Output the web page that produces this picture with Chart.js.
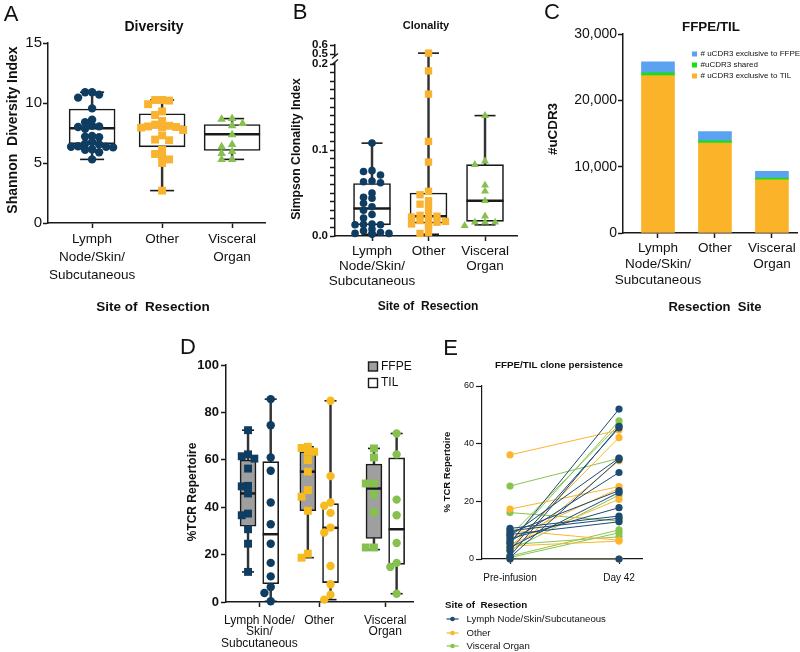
<!DOCTYPE html>
<html lang="en">
<head>
<meta charset="UTF-8" />
<title>TCR repertoire by site of resection</title>
<script src="https://cdn.jsdelivr.net/npm/chart.js@4.4.1/dist/chart.umd.min.js"></script>
<style>
  body { margin: 0; background: #fff; }
  #fig { position: relative; width: 800px; height: 652px; overflow: hidden; }
  canvas { position: absolute; }
</style>
</head>
<body>
<div id="fig">
  <canvas id="chartA" width="268" height="320" style="left:0;top:0"></canvas>
  <canvas id="chartB" width="262" height="320" style="left:268px;top:0"></canvas>
  <canvas id="chartC" width="270" height="320" style="left:530px;top:0"></canvas>
  <canvas id="chartD" width="265" height="332" style="left:175px;top:320px"></canvas>
  <canvas id="chartE" width="360" height="332" style="left:440px;top:320px"></canvas>
</div>
<script>
Chart.defaults.font.family = '"Liberation Sans", Arial, Helvetica, sans-serif';
Chart.defaults.color = '#111';
const FONT = '"Liberation Sans", Arial, Helvetica, sans-serif';
const INK = '#1a1a1a';
const NAVY = '#0f3c61', ORANGE = '#f9b331', GREEN = '#86c04e', YELLOW = '#f7bb22';

// categories
const siteLabels = [['Lymph', 'Node/Skin/', 'Subcutaneous'], ['Other'], ['Visceral', 'Organ']];
const siteLabelsD = [['Lymph Node/', 'Skin/', 'Subcutaneous'], ['Other'], ['Visceral', 'Organ']];
const siteNames = ['Lymph Node/Skin/Subcutaneous', 'Other', 'Visceral Organ'];
const timepoints = ['Pre-infusion', 'Day 42'];

// A: Shannon diversity index
const divLymph = [10.9, 10.9, 10.7, 10.45, 9.55, 8.6, 8.4, 8.1, 8.05, 8.0, 7.85, 7.25, 7.2, 7.15, 6.75, 6.6, 6.55, 6.4, 6.35, 6.35, 6.3, 6.15, 6.1, 5.9, 5.3];
const divOther = [10.25, 10.25, 10.2, 9.9, 9.3, 9.0, 8.5, 8.2, 8.1, 8.05, 8.0, 8.0, 7.95, 7.75, 7.3, 6.95, 6.9, 6.1, 5.75, 5.6, 5.3, 5.0, 2.7];
const divVisc = [8.7, 8.65, 8.3, 8.1, 7.35, 6.55, 6.35, 5.95, 5.8, 5.3, 5.3];
const divMin = [5.3, 2.7, 5.3];
const divQ1 = [6.6, 6.35, 6.05];
const divMed = [7.9, 8.0, 7.4];
const divQ3 = [9.5, 9.1, 8.2];
const divMax = [10.9, 10.25, 8.7];

// B: Simpson clonality index (axis broken between 0.2 and 0.5)
const cloLymph = [0.108, 0.076, 0.075, 0.071, 0.064, 0.063, 0.062, 0.050, 0.045, 0.044, 0.038, 0.034, 0.030, 0.025, 0.021, 0.014, 0.0135, 0.013, 0.013, 0.008, 0.006, 0.004, 0.003, 0.003, 0.003, 0.002];
const cloOther = [0.51, 0.192, 0.165, 0.110, 0.086, 0.052, 0.048, 0.041, 0.037, 0.033, 0.025, 0.024, 0.023, 0.022, 0.019, 0.018, 0.017, 0.016, 0.014, 0.013, 0.012, 0.004, 0.003];
const cloVisc = [0.140, 0.087, 0.083, 0.059, 0.052, 0.041, 0.023, 0.016, 0.016, 0.016, 0.012];
const cloMin = [0.002, 0.002, 0.013];
const cloQ1 = [0.013, 0.015, 0.017];
const cloMed = [0.032, 0.023, 0.041];
const cloQ3 = [0.061, 0.050, 0.083];
const cloMax = [0.108, 0.51, 0.140];
const cloTicks = [0, 0.1, 0.2, 0.5, 0.6];

// C: unique CDR3 counts
const tilExcl = [23730, 13550, 8030];
const sharedCdr3 = [400, 350, 250];
const ffpeExcl = [1660, 1400, 1000];

// D: %TCR repertoire, FFPE vs TIL
const ffpeLymph = [72.5, 62.3, 61.5, 60.5, 56.3, 49, 48.8, 45.8, 37.3, 36.6, 30.7, 24.6, 12.7];
const tilLymph = [85.6, 74.6, 61, 55.4, 42, 32.8, 24.6, 16.5, 10.8, 6.3, 3.8, 0.3];
const ffpeOther = [65.5, 65, 63.4, 63.4, 59.9, 55, 47.2, 44.4, 38.5, 20.4, 18.7];
const tilOther = [84.9, 53.1, 42, 40.6, 37.6, 31.4, 29.3, 15.2, 7.5, 3.1, 1.0];
const ffpeVisc = [64.8, 61, 50, 50, 45.4, 37.9, 23, 23];
const tilVisc = [71.1, 62.3, 43.2, 36.6, 24.9, 16.5, 14.8, 3.5];
const ffpeMin = [12.7, 18.7, 22.1], ffpeQ1 = [32, 38.5, 26.8], ffpeMed = [45.8, 55, 47.9], ffpeQ3 = [59.9, 63.4, 58.2], ffpeMax = [72.5, 65.5, 64.8];
const tilMin = [0.3, 1.0, 3.5], tilQ1 = [7.7, 8.2, 15.9], tilMed = [28.6, 31.3, 30.7], tilQ3 = [59.2, 41.5, 60.8], tilMax = [85.6, 84.9, 71.1];

// E: clone persistence, pre-infusion -> day 42
const lnPre = [5.5, 1, 3, 8, 0.5, 6, 9, 4, 7, 10.6, 9.8, 8.5, 0];
const lnDay42 = [52, 46, 45.5, 35, 34.5, 30, 23.7, 23.1, 17.8, 14.9, 14.1, 12.9, 0];
const otPre = [36.1, 17.3, 4, 2.5, 7, 5, 10, 4.5, 0];
const otDay42 = [44.7, 25.1, 42.1, 34.1, 24.5, 20.7, 6.5, 6.2, 0];
const vsPre = [25.3, 16.1, 6, 8, 3, 1, 0.5, 5];
const vsDay42 = [34.9, 13.2, 47.9, 46.5, 22.2, 10.1, 9.1, 7.7];

// broken axis mapping for panel B
const brk = v => v <= 0.25 ? v : 0.2116 + (v - 0.5) * 0.105;

// spread points with close values sideways
function swarm(vals, dy, step, slots) {
  const placed = [];
  return vals.map(v => {
    let off = 0;
    for (let k = 0; k < slots; k++) {
      const o = (k % 2 ? -1 : 1) * Math.ceil(k / 2) * step;
      if (!placed.some(p => Math.abs(p.v - v) < dy && Math.abs(p.o - o) < step * 0.95)) { off = o; break; }
    }
    placed.push({ v, o: off });
    return off;
  });
}

function dots(vals, c, color, style, r, sw, map = v => v) {
  const offs = swarm(vals, sw[0], sw[1], sw[2]);
  return {
    type: 'scatter', data: vals.map((v, i) => ({ x: c + offs[i], y: map(v) })),
    pointStyle: style, pointRadius: r, pointHoverRadius: r,
    pointBackgroundColor: color, pointBorderWidth: 0, order: 0, clip: false
  };
}

function boxSets(xs, st, fill, boxW, capW, map = v => v) {
  const pts = ys => xs.map((x, i) => ({ x, y: map(ys[i]) }));
  const span = (a, b) => xs.map((x, i) => ({ x, y: [map(a[i]), map(b[i])] }));
  return [
    { type: 'scatter', data: pts(st.med), pointStyle: 'line', pointRadius: boxW / 2, pointHoverRadius: boxW / 2,
      pointBorderColor: INK, pointBorderWidth: 2.5, order: 1, clip: false },
    { type: 'scatter', data: pts(st.min).concat(pts(st.max)), pointStyle: 'line', pointRadius: capW / 2, pointHoverRadius: capW / 2,
      pointBorderColor: INK, pointBorderWidth: 1.6, order: 2, clip: false },
    { type: 'bar', data: span(st.q1, st.q3), backgroundColor: fill, borderColor: INK, borderWidth: 1.6,
      borderSkipped: false, barThickness: boxW, grouped: false, order: 3 },
    { type: 'bar', data: span(st.min, st.q1).concat(span(st.q3, st.max)), backgroundColor: '#333',
      borderWidth: 0, barThickness: 1.8, grouped: false, order: 4 }
  ];
}

// stats for a subset of categories
const pick = (st, idx) => Object.fromEntries(Object.entries(st).map(([k, a]) => [k, idx.map(i => a[i])]));

function axis(o) {
  const s = {
    type: 'linear', min: o.min, max: o.max, stacked: !!o.stacked, offset: false,
    border: { color: INK, width: o.lw || 1.5 },
    grid: { offset: false, drawOnChartArea: false, tickLength: o.tick || 5, tickColor: INK, tickWidth: o.lw || 1.5 },
    ticks: { font: o.font, color: '#111', padding: o.pad != null ? o.pad : 2, autoSkip: false, maxRotation: 0 }
  };
  if (o.step) s.ticks.stepSize = o.step;
  if (o.labels) s.ticks.callback = v => o.labels(v);
  if (o.at) s.afterBuildTicks = sc => { sc.ticks = o.at.map(v => ({ value: v })); };
  return s;
}

// free text, legend keys and the axis break
const decor = {
  id: 'decor',
  afterDraw(chart, args, o) {
    const ctx = chart.ctx;
    ctx.save();
    if (o.brk) {
      const y = chart.scales.y, x0 = chart.chartArea.left;
      const lo = y.getPixelForValue(o.brk[0]), hi = y.getPixelForValue(o.brk[1]);
      ctx.fillStyle = '#fff';
      ctx.fillRect(x0 - 3, hi + 2, 6, lo - hi - 4);
      ctx.strokeStyle = INK; ctx.lineWidth = 1.3;
      [lo - 2, hi + 2].forEach(yy => {
        ctx.beginPath(); ctx.moveTo(x0 - 3, yy + 2.5); ctx.lineTo(x0 + 3, yy - 2.5); ctx.stroke();
      });
    }
    (o.keys || []).forEach(k => {
      if (k.line) {
        ctx.strokeStyle = k.color; ctx.lineWidth = 1.2;
        ctx.beginPath(); ctx.moveTo(k.x - 6, k.y); ctx.lineTo(k.x + 6, k.y); ctx.stroke();
        ctx.fillStyle = k.color;
        ctx.beginPath(); ctx.arc(k.x, k.y, 2.3, 0, Math.PI * 2); ctx.fill();
      } else {
        ctx.fillStyle = k.color;
        ctx.fillRect(k.x - k.s / 2, k.y - k.s / 2, k.s, k.s);
        if (k.stroke) { ctx.strokeStyle = INK; ctx.lineWidth = 1.4; ctx.strokeRect(k.x - k.s / 2, k.y - k.s / 2, k.s, k.s); }
      }
      ctx.fillStyle = '#111'; ctx.font = k.font; ctx.textAlign = 'left'; ctx.textBaseline = 'middle';
      ctx.fillText(k.text, k.x + k.dx, k.y);
    });
    (o.texts || []).forEach(t => {
      ctx.save();
      ctx.fillStyle = '#111'; ctx.font = t.font;
      ctx.textAlign = t.align || 'center'; ctx.textBaseline = 'middle';
      ctx.translate(t.x, t.y);
      if (t.rot) ctx.rotate(t.rot);
      ctx.fillText(t.text, 0, 0);
      ctx.restore();
    });
    ctx.restore();
  }
};

function makeChart(id, W, H, box, datasets, scales, deco) {
  scales.x.afterFit = sc => { sc.height = H - box.b; };
  scales.y.afterFit = sc => { sc.width = box.l; };
  return new Chart(document.getElementById(id), {
    type: 'scatter',
    data: { datasets },
    options: {
      responsive: false, animation: false, events: [],
      layout: { autoPadding: false, padding: { left: 0, top: box.t, right: W - box.r, bottom: 0 } },
      plugins: { legend: { display: false }, tooltip: { enabled: false }, decor: deco },
      scales
    },
    plugins: [decor]
  });
}

const bold = s => 'bold ' + s + 'px ' + FONT;
const reg = s => s + 'px ' + FONT;
const UP = -Math.PI / 2;

// ---------- A ----------
const statsA = { min: divMin, q1: divQ1, med: divMed, q3: divQ3, max: divMax };
const swA = [0.5, 0.1, 7];
makeChart('chartA', 268, 320, { l: 48, t: 43, r: 265, b: 223 }, [
  dots(divLymph, 0, NAVY, 'circle', 4.2, swA),
  dots(divOther, 1, ORANGE, 'rect', 5.6, swA),
  dots(divVisc, 2, GREEN, 'triangle', 5, [0.5, 0.15, 7]),
  ...boxSets([0, 1], pick(statsA, [0, 1]), '#fff', 46, 24),
  ...boxSets([2], pick(statsA, [2]), '#fff', 56, 24)
], {
  x: axis({ min: -0.63, max: 2.47, at: [0, 1, 2], labels: v => siteLabels[v], font: { size: 13.5, lineHeight: 1.3 }, pad: 3 }),
  y: axis({ min: 0, max: 15, step: 5, font: { size: 15 }, pad: 1 })
}, {
  texts: [
    { text: 'A', x: 11, y: 15, font: reg(22) },
    { text: 'Diversity', x: 154, y: 27, font: bold(14) },
    { text: 'Shannon  Diversity Index', x: 13, y: 130, rot: UP, font: bold(14) },
    { text: 'Site of  Resection', x: 153, y: 307, font: bold(13.5) }
  ]
});

// ---------- B ----------
const swB = [0.006, 0.15, 5];
makeChart('chartB', 262, 320, { l: 67, t: 45, r: 249, b: 236 }, [
  dots(cloLymph, 0, NAVY, 'circle', 3.8, swB, brk),
  dots(cloOther, 1, ORANGE, 'rect', 5.2, swB, brk),
  dots(cloVisc, 2, GREEN, 'triangle', 4.6, [0.006, 0.18, 5], brk),
  ...boxSets([0, 1, 2], { min: cloMin, q1: cloQ1, med: cloMed, q3: cloQ3, max: cloMax }, '#fff', 37, 21, brk)
], {
  x: axis({ min: -0.655, max: 2.566, at: [0, 1, 2], labels: v => siteLabels[v], font: { size: 13.5, lineHeight: 1.1 }, pad: 3 }),
  y: axis({
    min: 0, max: brk(0.6),
    at: Array.from({ length: 21 }, (_, i) => i / 100).concat([brk(0.5), brk(0.6)]),
    labels: v => { const k = cloTicks.findIndex(t => Math.abs(brk(t) - v) < 1e-6); return k < 0 ? '' : cloTicks[k].toFixed(1); },
    font: { size: 11.5, weight: 'bold' }, pad: 2, tick: 5
  })
}, {
  brk: [0.2, brk(0.5)],
  texts: [
    { text: 'B', x: 32, y: 13, font: reg(22) },
    { text: 'Clonality', x: 158, y: 26, font: bold(11) },
    { text: 'Simpson Clonality Index', x: 29, y: 149, rot: UP, font: bold(12.2) },
    { text: 'Site of  Resection', x: 160, y: 307, font: bold(12) }
  ]
});

// ---------- C ----------
const barC = (vals, color, label) => ({
  type: 'bar', label, data: vals.map((v, i) => ({ x: i, y: v })),
  backgroundColor: color, borderWidth: 0, barThickness: 33
});
const cTIL = '#fbb329', cShared = '#14e014', cFFPE = '#5ba3f0';
makeChart('chartC', 270, 320, { l: 93, t: 34, r: 267, b: 233 }, [
  barC(tilExcl, cTIL, '# uCDR3 exclusive to TIL'),
  barC(sharedCdr3, cShared, '#uCDR3 shared'),
  barC(ffpeExcl, cFFPE, '# uCDR3 exclusive to FFPE')
], {
  x: axis({ min: -0.614, max: 2.44, at: [0, 1, 2], labels: v => siteLabels[v], font: { size: 13.5, lineHeight: 1.2 }, pad: 2, stacked: true }),
  y: axis({ min: 0, max: 30000, step: 10000, labels: v => v.toLocaleString('en-US'), font: { size: 14 }, pad: 1, stacked: true })
}, {
  keys: [
    { color: cFFPE, x: 164.5, y: 54, s: 5, dx: 6, text: '# uCDR3 exclusive to FFPE', font: reg(8) },
    { color: cShared, x: 164.5, y: 65, s: 5, dx: 6, text: '#uCDR3 shared', font: reg(8) },
    { color: cTIL, x: 164.5, y: 76, s: 5, dx: 6, text: '# uCDR3 exclusive to TIL', font: reg(8) }
  ],
  texts: [
    { text: 'C', x: 22, y: 13, font: reg(22) },
    { text: 'FFPE/TIL', x: 181, y: 27, font: bold(13.4) },
    { text: '#uCDR3', x: 23, y: 129, rot: UP, font: bold(13.4) },
    { text: 'Resection  Site', x: 185, y: 307, font: bold(13) }
  ]
});

// ---------- D ----------
const dPos = [0, 0.95, 2];   // group centres on the x scale
const dx = 0.18;
const swD = [3.2, 0.1, 3];
makeChart('chartD', 265, 332, { l: 51, t: 45, r: 238, b: 282 }, [
  dots(ffpeLymph, dPos[0] - dx, NAVY, 'rect', 5.6, swD),
  dots(tilLymph, dPos[0] + dx, NAVY, 'circle', 4.2, swD),
  dots(ffpeOther, dPos[1] - dx, YELLOW, 'rect', 5.6, swD),
  dots(tilOther, dPos[1] + dx, YELLOW, 'circle', 4.2, swD),
  dots(ffpeVisc, dPos[2] - dx, GREEN, 'rect', 5.6, [3.2, 0.13, 3]),
  dots(tilVisc, dPos[2] + dx, GREEN, 'circle', 4.2, swD),
  ...boxSets(dPos.map(p => p - dx), { min: ffpeMin, q1: ffpeQ1, med: ffpeMed, q3: ffpeQ3, max: ffpeMax }, '#9f9f9f', 16, 12),
  ...boxSets(dPos.map(p => p + dx), { min: tilMin, q1: tilQ1, med: tilMed, q3: tilQ3, max: tilMax }, '#fff', 16, 12)
], {
  x: axis({ min: -0.53, max: 2.44, at: dPos, labels: v => siteLabelsD[dPos.indexOf(v)], font: { size: 12, lineHeight: 0.95 }, pad: 8 }),
  y: axis({ min: 0, max: 100, step: 20, font: { size: 13, weight: 'bold' }, pad: 2 })
}, {
  keys: [
    { color: '#9f9f9f', stroke: true, x: 198, y: 46.5, s: 9, dx: 8, text: 'FFPE', font: reg(12) },
    { color: '#fff', stroke: true, x: 198, y: 63, s: 9, dx: 8, text: 'TIL', font: reg(12) }
  ],
  texts: [
    { text: 'D', x: 13, y: 28, font: reg(22) },
    { text: '%TCR Repertoire', x: 18, y: 172, rot: UP, font: bold(12) }
  ]
});

// ---------- E ----------
function pairSets(pre, post, color) {
  return pre.map((v, i) => ({
    type: 'scatter', showLine: true, data: [{ x: 0, y: v }, { x: 1, y: post[i] }],
    borderColor: color, borderWidth: 1, pointRadius: 3.6, pointHoverRadius: 3.6,
    pointBackgroundColor: color, pointBorderWidth: 0, clip: false
  }));
}
const eBlue = '#1c4a72', eOrange = '#fbb52f', eGreen = '#89c44f';
makeChart('chartE', 360, 332, { l: 42, t: 66, r: 202, b: 239 }, [
  ...pairSets(lnPre, lnDay42, eBlue),
  ...pairSets(otPre, otDay42, eOrange),
  ...pairSets(vsPre, vsDay42, eGreen)
], {
  x: axis({ min: -0.257, max: 1.211, at: [0, 1], labels: v => timepoints[v], font: { size: 10 }, pad: 8, lw: 1.2 }),
  y: axis({ min: 0, max: 60, step: 20, font: { size: 9 }, pad: 2, tick: 6, lw: 1.2 })
}, {
  keys: [
    { line: true, color: eBlue, x: 12.5, y: 299, dx: 14, text: siteNames[0], font: reg(9.6) },
    { line: true, color: eOrange, x: 12.5, y: 313, dx: 14, text: siteNames[1], font: reg(9.6) },
    { line: true, color: eGreen, x: 12.5, y: 326, dx: 14, text: siteNames[2], font: reg(9.6) }
  ],
  texts: [
    { text: 'E', x: 10.5, y: 28.5, font: reg(22) },
    { text: 'FFPE/TIL clone persistence', x: 119, y: 45, font: bold(9.8) },
    { text: '% TCR Repertoire', x: 7, y: 152, rot: UP, font: bold(9.5) },
    { text: 'Site of  Resection', x: 5, y: 285, align: 'left', font: bold(9.8) }
  ]
});
</script>
</body>
</html>
